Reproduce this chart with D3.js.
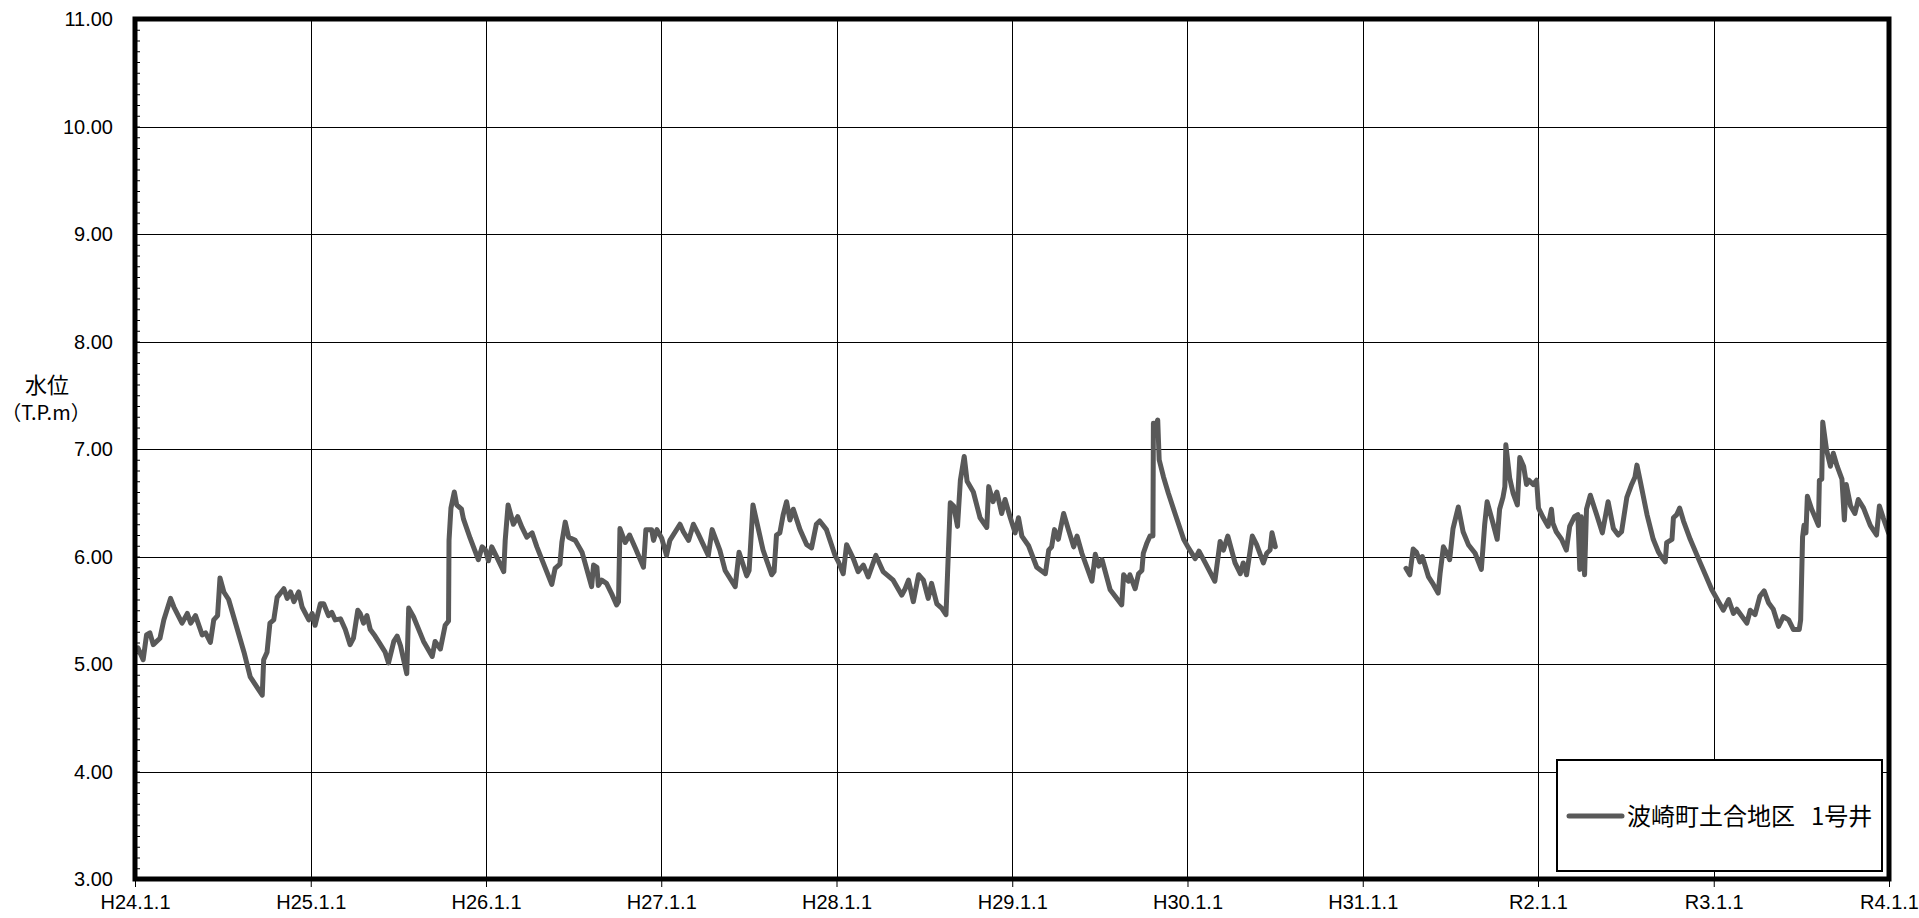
<!DOCTYPE html>
<html>
<head>
<meta charset="utf-8">
<script src="https://cdn.jsdelivr.net/npm/d3@7"></script>
<style>
  html, body { margin: 0; padding: 0; background: #ffffff; }
  svg { display: block; }
</style>
</head>
<body>
<svg id="chart" width="1919" height="918"></svg>
<script>
// ---------------- data ----------------
const yTicks = [3, 4, 5, 6, 7, 8, 9, 10, 11];
const xTickYears = [2012, 2013, 2014, 2015, 2016, 2017, 2018, 2019, 2020, 2021, 2022];
const xTickLabels = ["H24.1.1", "H25.1.1", "H26.1.1", "H27.1.1", "H28.1.1", "H29.1.1",
                     "H30.1.1", "H31.1.1", "R2.1.1", "R3.1.1", "R4.1.1"];
const yTitle = ["水位", "（T.P.m）"];
const seriesName = "波崎町土合地区　1号井";

// observed water level (T.P.m), H24.1 – H30.7
const levelsH24toH30 = [
  ["2012-01-07",5.15],["2012-01-18",5.04],["2012-01-25",5.27],["2012-02-01",5.29],["2012-02-08",5.18],
  ["2012-02-22",5.24],["2012-03-01",5.41],["2012-03-15",5.61],["2012-03-22",5.53],["2012-04-08",5.38],
  ["2012-04-19",5.47],["2012-04-26",5.38],["2012-05-06",5.45],["2012-05-20",5.27],["2012-05-27",5.29],
  ["2012-06-06",5.20],["2012-06-13",5.41],["2012-06-21",5.45],["2012-06-26",5.80],["2012-07-04",5.67],
  ["2012-07-14",5.60],["2012-08-15",5.11],["2012-08-28",4.88],["2012-09-22",4.71],["2012-09-25",5.04],
  ["2012-10-02",5.11],["2012-10-08",5.38],["2012-10-16",5.41],["2012-10-23",5.62],["2012-11-06",5.70],
  ["2012-11-13",5.61],["2012-11-20",5.67],["2012-11-27",5.58],["2012-12-07",5.67],["2012-12-14",5.53],
  ["2012-12-28",5.41],
  ["2013-01-04",5.47],["2013-01-10",5.36],["2013-01-21",5.56],["2013-01-28",5.56],["2013-02-07",5.45],
  ["2013-02-14",5.48],["2013-02-21",5.41],["2013-03-04",5.42],["2013-03-14",5.32],["2013-03-24",5.18],
  ["2013-03-31",5.24],["2013-04-09",5.50],["2013-04-14",5.47],["2013-04-21",5.38],["2013-04-28",5.45],
  ["2013-05-05",5.32],["2013-05-15",5.26],["2013-05-22",5.21],["2013-06-05",5.11],["2013-06-12",5.01],
  ["2013-06-23",5.21],["2013-06-30",5.26],["2013-07-07",5.17],["2013-07-20",4.91],["2013-07-24",5.52],
  ["2013-08-03",5.44],["2013-08-24",5.21],["2013-09-11",5.07],["2013-09-17",5.21],["2013-09-28",5.14],
  ["2013-10-08",5.36],["2013-10-15",5.40],["2013-10-16",6.15],["2013-10-20",6.45],["2013-10-27",6.60],
  ["2013-11-01",6.48],["2013-11-11",6.44],["2013-11-15",6.35],["2013-11-29",6.17],["2013-12-16",5.97],
  ["2013-12-24",6.09],["2013-12-31",6.06],
  ["2014-01-06",5.96],["2014-01-13",6.09],["2014-01-24",5.99],["2014-02-07",5.86],["2014-02-10",6.15],
  ["2014-02-16",6.48],["2014-02-27",6.30],["2014-03-08",6.37],["2014-03-17",6.27],["2014-03-27",6.18],
  ["2014-04-07",6.22],["2014-04-17",6.09],["2014-05-18",5.74],["2014-05-25",5.89],["2014-06-04",5.93],
  ["2014-06-08",6.13],["2014-06-15",6.32],["2014-06-22",6.18],["2014-07-06",6.15],["2014-07-20",6.04],
  ["2014-08-09",5.72],["2014-08-13",5.92],["2014-08-20",5.90],["2014-08-23",5.73],["2014-08-30",5.78],
  ["2014-09-09",5.75],["2014-09-20",5.65],["2014-09-30",5.55],["2014-10-04",5.58],["2014-10-07",6.26],
  ["2014-10-18",6.13],["2014-10-27",6.20],["2014-11-08",6.08],["2014-11-25",5.90],["2014-11-30",6.25],
  ["2014-12-12",6.25],["2014-12-16",6.15],["2014-12-23",6.25],
  ["2015-01-02",6.17],["2015-01-12",6.01],["2015-01-19",6.15],["2015-02-09",6.30],["2015-02-16",6.23],
  ["2015-02-27",6.15],["2015-03-09",6.30],["2015-03-19",6.21],["2015-04-09",6.01],["2015-04-17",6.25],
  ["2015-05-03",6.06],["2015-05-14",5.87],["2015-06-04",5.72],["2015-06-12",6.04],["2015-06-28",5.82],
  ["2015-07-03",5.87],["2015-07-11",6.48],["2015-08-01",6.06],["2015-08-19",5.83],["2015-08-24",5.86],
  ["2015-08-29",6.20],["2015-09-05",6.22],["2015-09-12",6.39],["2015-09-19",6.51],["2015-09-26",6.34],
  ["2015-10-03",6.44],["2015-10-17",6.25],["2015-10-31",6.11],["2015-11-10",6.08],["2015-11-20",6.30],
  ["2015-11-27",6.33],["2015-12-11",6.25],["2015-12-29",6.01],
  ["2016-01-05",5.95],["2016-01-15",5.84],["2016-01-22",6.11],["2016-02-05",5.98],["2016-02-15",5.86],
  ["2016-02-26",5.92],["2016-03-07",5.81],["2016-03-23",6.01],["2016-04-07",5.86],["2016-04-28",5.78],
  ["2016-05-16",5.64],["2016-05-23",5.70],["2016-05-30",5.78],["2016-06-09",5.58],["2016-06-20",5.83],
  ["2016-06-30",5.78],["2016-07-10",5.61],["2016-07-17",5.75],["2016-07-28",5.56],["2016-08-07",5.52],
  ["2016-08-16",5.46],["2016-08-21",6.04],["2016-08-25",6.50],["2016-09-01",6.47],["2016-09-09",6.28],
  ["2016-09-15",6.71],["2016-09-23",6.93],["2016-09-29",6.70],["2016-10-12",6.60],["2016-10-26",6.36],
  ["2016-11-09",6.27],["2016-11-13",6.65],["2016-11-22",6.51],["2016-11-30",6.60],["2016-12-10",6.40],
  ["2016-12-17",6.53],["2016-12-28",6.36],
  ["2017-01-07",6.22],["2017-01-14",6.36],["2017-01-21",6.19],["2017-02-04",6.10],["2017-02-21",5.90],
  ["2017-03-11",5.84],["2017-03-18",6.06],["2017-03-24",6.09],["2017-03-30",6.25],["2017-04-07",6.16],
  ["2017-04-18",6.40],["2017-04-28",6.25],["2017-05-09",6.09],["2017-05-16",6.19],["2017-05-26",6.03],
  ["2017-06-16",5.77],["2017-06-23",6.02],["2017-06-30",5.91],["2017-07-07",5.97],["2017-07-24",5.69],
  ["2017-08-17",5.55],["2017-08-21",5.83],["2017-08-31",5.77],["2017-09-03",5.83],["2017-09-14",5.70],
  ["2017-09-21",5.84],["2017-09-28",5.87],["2017-10-01",6.03],["2017-10-08",6.12],["2017-10-15",6.19],
  ["2017-10-21",6.19],["2017-10-22",7.24],["2017-10-26",7.21],["2017-10-31",7.27],["2017-11-03",6.90],
  ["2017-11-12",6.74],["2017-11-22",6.59],["2017-12-06",6.40],["2017-12-24",6.16],
  ["2018-01-03",6.08],["2018-01-17",5.98],["2018-01-25",6.05],["2018-02-07",5.94],["2018-02-27",5.77],
  ["2018-03-10",6.14],["2018-03-17",6.06],["2018-03-26",6.19],["2018-04-10",5.94],["2018-04-21",5.84],
  ["2018-04-27",5.94],["2018-05-04",5.83],["2018-05-16",6.19],["2018-05-25",6.11],["2018-06-08",5.94],
  ["2018-06-15",6.03],["2018-06-22",6.06],["2018-06-26",6.22],["2018-07-03",6.09]
];

// observed water level (T.P.m), H31.4 – R3.12
const levelsH31toR3 = [
  ["2019-04-01",5.89],["2019-04-09",5.83],["2019-04-16",6.07],["2019-04-23",6.04],["2019-04-30",5.95],
  ["2019-05-05",6.00],["2019-05-18",5.81],["2019-05-28",5.74],["2019-06-07",5.66],["2019-06-11",5.84],
  ["2019-06-18",6.09],["2019-06-24",6.04],["2019-07-01",5.97],["2019-07-08",6.26],["2019-07-19",6.46],
  ["2019-07-29",6.23],["2019-08-09",6.11],["2019-08-23",6.03],["2019-09-05",5.88],["2019-09-12",6.30],
  ["2019-09-17",6.51],["2019-09-28",6.33],["2019-10-08",6.16],["2019-10-13",6.44],["2019-10-20",6.55],
  ["2019-10-24",6.65],["2019-10-26",7.04],["2019-11-03",6.73],["2019-11-10",6.59],["2019-11-19",6.48],
  ["2019-11-24",6.92],["2019-12-02",6.84],["2019-12-08",6.67],["2019-12-13",6.71],["2019-12-22",6.67],
  ["2019-12-29",6.71],
  ["2020-01-02",6.45],["2020-01-12",6.36],["2020-01-22",6.28],["2020-01-29",6.44],["2020-02-01",6.31],
  ["2020-02-08",6.23],["2020-02-19",6.16],["2020-02-29",6.06],["2020-03-07",6.28],["2020-03-17",6.37],
  ["2020-03-24",6.39],["2020-03-28",5.88],["2020-03-31",6.37],["2020-04-07",5.83],["2020-04-11",6.44],
  ["2020-04-19",6.57],["2020-05-02",6.39],["2020-05-14",6.22],["2020-05-26",6.51],["2020-06-06",6.26],
  ["2020-06-16",6.20],["2020-06-23",6.23],["2020-07-04",6.55],["2020-07-14",6.67],["2020-07-21",6.74],
  ["2020-07-25",6.85],["2020-08-01",6.70],["2020-08-15",6.39],["2020-08-28",6.16],["2020-09-08",6.04],
  ["2020-09-15",5.99],["2020-09-22",5.95],["2020-09-25",6.13],["2020-10-06",6.16],["2020-10-09",6.36],
  ["2020-10-16",6.39],["2020-10-22",6.45],["2020-10-30",6.33],["2020-11-13",6.16],["2020-12-03",5.95],
  ["2020-12-28",5.69],
  ["2021-01-21",5.50],["2021-02-01",5.60],["2021-02-11",5.47],["2021-02-18",5.51],["2021-03-11",5.38],
  ["2021-03-18",5.50],["2021-03-28",5.46],["2021-04-07",5.63],["2021-04-16",5.68],["2021-04-25",5.57],
  ["2021-05-05",5.51],["2021-05-16",5.35],["2021-05-26",5.44],["2021-06-06",5.41],["2021-06-16",5.32],
  ["2021-06-28",5.32],["2021-07-01",5.41],["2021-07-05",6.18],["2021-07-08",6.29],["2021-07-12",6.22],
  ["2021-07-15",6.56],["2021-07-24",6.44],["2021-08-07",6.29],["2021-08-09",6.71],["2021-08-14",6.72],
  ["2021-08-16",7.25],["2021-08-24",6.99],["2021-09-01",6.84],["2021-09-07",6.96],["2021-09-15",6.84],
  ["2021-09-25",6.72],["2021-09-30",6.34],["2021-10-04",6.67],["2021-10-13",6.47],["2021-10-22",6.40],
  ["2021-10-29",6.53],["2021-11-09",6.45],["2021-11-23",6.29],["2021-12-06",6.20],["2021-12-12",6.47],
  ["2021-12-20",6.36],["2021-12-31",6.22]
];

// ---------------- drawing ----------------
const svg = d3.select("#chart");
const plot = { left: 135, right: 1889, top: 19, bottom: 879 };
const parseDate = d3.timeParse("%Y-%m-%d");

const x = d3.scaleTime()
  .domain([new Date(xTickYears[0], 0, 1), new Date(xTickYears[xTickYears.length - 1], 0, 1)])
  .range([plot.left, plot.right]);
const y = d3.scaleLinear()
  .domain([yTicks[0], yTicks[yTicks.length - 1]])
  .range([plot.bottom, plot.top]);

svg.append("rect").attr("width", 1919).attr("height", 918).attr("fill", "#fff");

// horizontal gridlines
svg.append("g").selectAll("line")
  .data(yTicks.slice(1, -1))
  .join("line")
  .attr("x1", plot.left).attr("x2", plot.right)
  .attr("y1", d => Math.round(y(d)) + 0.5).attr("y2", d => Math.round(y(d)) + 0.5)
  .attr("stroke", "#000").attr("stroke-width", 1);

// vertical gridlines
const xTickDates = xTickYears.map(yr => new Date(yr, 0, 1));
svg.append("g").selectAll("line")
  .data(xTickDates.slice(1, -1))
  .join("line")
  .attr("x1", d => Math.round(x(d)) + 0.5).attr("x2", d => Math.round(x(d)) + 0.5)
  .attr("y1", plot.top).attr("y2", plot.bottom)
  .attr("stroke", "#000").attr("stroke-width", 1);

// y axis: minor ticks inside + labels
const yAxis = d3.axisLeft(y)
  .tickValues(d3.range(30, 111).map(v => v / 10))
  .tickSize(-5)
  .tickFormat("");
const yAxisG = svg.append("g").attr("transform", `translate(${plot.left},0)`).call(yAxis);
yAxisG.select(".domain").remove();
yAxisG.selectAll(".tick line").attr("stroke", "#000").attr("stroke-width", 1);

svg.append("g").selectAll("text")
  .data(yTicks)
  .join("text")
  .attr("x", 113)
  .attr("y", d => y(d))
  .attr("dy", "0.36em")
  .attr("text-anchor", "end")
  .attr("font-family", "'Liberation Sans', Arial, sans-serif")
  .attr("font-size", 20)
  .attr("fill", "#000")
  .text(d => d3.format(".2f")(d));

// x axis ticks (below) + labels
const xAxis = d3.axisBottom(x)
  .tickValues(xTickDates)
  .tickSize(6)
  .tickFormat((d, i) => xTickLabels[i]);
const xAxisG = svg.append("g").attr("transform", `translate(0,${plot.bottom + 2})`).call(xAxis);
xAxisG.select(".domain").remove();
xAxisG.selectAll(".tick line").attr("stroke", "#000").attr("stroke-width", 1);
xAxisG.selectAll(".tick text")
  .attr("font-family", "'Liberation Sans', Arial, sans-serif")
  .attr("font-size", 20)
  .attr("fill", "#000")
  .attr("y", 14)
  .attr("dy", "0.71em");

// y title
svg.append("g").selectAll("text")
  .data(yTitle)
  .join("text")
  .attr("x", (d, i) => i === 0 ? 47 : 46)
  .attr("y", (d, i) => 385 + i * 28)
  .attr("dy", "0.35em")
  .attr("text-anchor", "middle")
  .attr("font-family", "'Noto Sans CJK JP', 'Liberation Sans', sans-serif")
  .attr("font-size", (d, i) => i === 0 ? 22 : 20)
  .attr("fill", "#000")
  .text(d => d);

// series line
const line = d3.line()
  .x(d => x(parseDate(d[0])))
  .y(d => y(d[1]));
const seriesColor = "#595959";
svg.append("g").selectAll("path")
  .data([levelsH24toH30, levelsH31toR3])
  .join("path")
  .attr("d", line)
  .attr("fill", "none")
  .attr("stroke", seriesColor)
  .attr("stroke-width", 5)
  .attr("stroke-linejoin", "round")
  .attr("stroke-linecap", "round");

// frame
svg.append("rect")
  .attr("x", plot.left).attr("y", plot.top)
  .attr("width", plot.right - plot.left).attr("height", plot.bottom - plot.top)
  .attr("fill", "none").attr("stroke", "#000").attr("stroke-width", 5);

// legend
const lg = svg.append("g");
lg.append("rect")
  .attr("x", 1557).attr("y", 760).attr("width", 325).attr("height", 111)
  .attr("fill", "#fff").attr("stroke", "#000").attr("stroke-width", 2);
lg.append("line")
  .attr("x1", 1569).attr("x2", 1622).attr("y1", 816).attr("y2", 816)
  .attr("stroke", seriesColor).attr("stroke-width", 5).attr("stroke-linecap", "round");
const legendParts = seriesName.split("　");
const legendText = lg.append("text")
  .attr("x", 1627).attr("y", 816).attr("dy", "0.36em")
  .attr("font-family", "'Noto Sans CJK JP', sans-serif")
  .attr("font-size", 24)
  .attr("fill", "#000");
legendText.selectAll("tspan")
  .data(legendParts)
  .join("tspan")
  .attr("dx", (d, i) => i === 0 ? 0 : 16)
  .text(d => d);
</script>
</body>
</html>
